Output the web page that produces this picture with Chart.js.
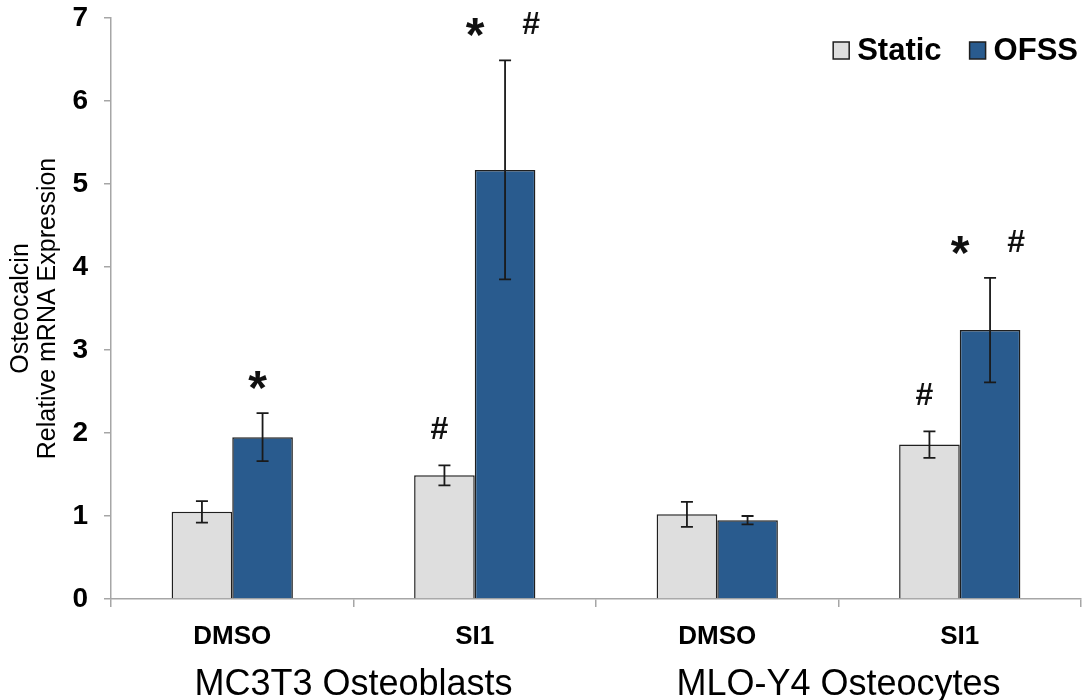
<!DOCTYPE html>
<html>
<head>
<meta charset="utf-8">
<script src="https://cdn.jsdelivr.net/npm/chart.js@4"></script>
<style>
  body { margin: 0; background: #fff; }
  #wrap { width: 1088px; height: 700px; position: relative; }
</style>
</head>
<body>
<div id="wrap"><canvas id="chart-1"></canvas></div>
<script>
const categories = ["DMSO", "SI1", "DMSO", "SI1"];
const groups = ["MC3T3 Osteoblasts", "MLO-Y4 Osteocytes"];
const staticValues = [1.05, 1.49, 1.02, 1.86];
const staticErrors = [0.13, 0.12, 0.15, 0.16];
const ofssValues = [1.95, 5.17, 0.95, 3.24];
const ofssErrors = [0.29, 1.32, 0.05, 0.63];
const staticMarks = [[], ["#"], [], ["#"]];
const ofssMarks = [["*"], ["*", "#"], [], ["*", "#"]];
const yTitle = ["Osteocalcin", "Relative mRNA Expression"];

const FONT = "'Liberation Sans', Arial, sans-serif";

const errorBars = {
  id: "errorBars",
  afterDatasetsDraw(chart) {
    const ctx = chart.ctx;
    const y = chart.scales.y;
    chart.data.datasets.forEach((ds, i) => {
      const meta = chart.getDatasetMeta(i);
      meta.data.forEach((bar, j) => {
        const v = ds.data[j];
        const e = ds.errors[j];
        const top = y.getPixelForValue(v + e);
        const bottom = y.getPixelForValue(v - e);
        ctx.save();
        ctx.strokeStyle = "#1a1a1a";
        ctx.lineWidth = 1.8;
        ctx.beginPath();
        ctx.moveTo(bar.x, top);
        ctx.lineTo(bar.x, bottom);
        ctx.moveTo(bar.x - 6, top);
        ctx.lineTo(bar.x + 6, top);
        ctx.moveTo(bar.x - 6, bottom);
        ctx.lineTo(bar.x + 6, bottom);
        ctx.stroke();
        // significance marks above the error bar
        const marks = ds.marks[j];
        const cy = top - 37;
        ctx.fillStyle = "#111";
        ctx.textAlign = "center";
        ctx.textBaseline = "alphabetic";
        marks.forEach((m, k) => {
          let cx = bar.x - 5;
          if (marks.length > 1) cx = k === 0 ? bar.x - 30 : bar.x + 26;
          if (m === "*") {
            ctx.font = "bold 48px " + FONT;
            ctx.fillText(m, cx, cy + 28);
          } else {
            ctx.font = "bold 32px " + FONT;
            ctx.fillText(m, cx, cy + 11);
          }
        });
        ctx.restore();
      });
    });
  },
};

const groupLabels = {
  id: "groupLabels",
  afterDraw(chart) {
    const ctx = chart.ctx;
    const x = chart.scales.x;
    ctx.save();
    ctx.font = "36px " + FONT;
    ctx.fillStyle = "#000";
    ctx.textAlign = "center";
    ctx.textBaseline = "alphabetic";
    groups.forEach((g, i) => {
      const cx = (x.getPixelForValue(i * 2) + x.getPixelForValue(i * 2 + 1)) / 2;
      ctx.fillText(g, cx, 695);
    });
    ctx.restore();
  },
};

// legend drawn in the top right corner of the plot
const cornerLegend = {
  id: "cornerLegend",
  afterDraw(chart) {
    const ctx = chart.ctx;
    const area = chart.chartArea;
    ctx.save();
    ctx.font = "bold 31px " + FONT;
    ctx.textBaseline = "middle";
    ctx.textAlign = "left";
    const cy = area.top + 33;
    let xRight = area.right - 3;
    const items = chart.data.datasets.map((ds) => ds).reverse();
    items.forEach((ds) => {
      const w = ctx.measureText(ds.label).width;
      const tx = xRight - w;
      ctx.fillStyle = "#000";
      ctx.fillText(ds.label, tx, cy);
      ctx.fillStyle = ds.backgroundColor;
      ctx.strokeStyle = ds.borderColor;
      ctx.lineWidth = 1.5;
      ctx.fillRect(tx - 24, cy - 9, 16, 17);
      ctx.strokeRect(tx - 24, cy - 9, 16, 17);
      xRight = tx - 24 - 28;
    });
    ctx.restore();
  },
};

const data_1 = {
  labels: categories,
  datasets: [
    {
      label: "Static",
      data: staticValues,
      errors: staticErrors,
      marks: staticMarks,
      backgroundColor: "#dedede",
      borderColor: "#1f1f1f",
      borderWidth: 1.5,
    },
    {
      label: "OFSS",
      data: ofssValues,
      errors: ofssErrors,
      marks: ofssMarks,
      backgroundColor: "#295b8e",
      borderColor: "#1f1f1f",
      borderWidth: 1.5,
    },
  ],
};

new Chart(document.getElementById("chart-1"), {
  type: "bar",
  data: data_1,
  plugins: [errorBars, groupLabels, cornerLegend],
  options: {
    responsive: true,
    maintainAspectRatio: false,
    animation: false,
    categoryPercentage: 0.5,
    barPercentage: 1.0,
    layout: {
      padding: { top: 0, right: 7, bottom: 0, left: 0 },
    },
    scales: {
      x: {
        afterFit(scale) {
          scale.height = 101;
        },
        grid: {
          drawOnChartArea: false,
          drawTicks: true,
          tickLength: 8,
          color: "#a6a6a6",
          lineWidth: 1.5,
          offset: true,
        },
        border: { color: "#a6a6a6", width: 1.5 },
        ticks: {
          color: "#000",
          padding: 14,
          font: { family: FONT, size: 26, weight: "bold" },
        },
      },
      y: {
        min: 0,
        max: 7,
        afterFit(scale) {
          scale.width = 111;
          scale.paddingTop = 18;
          scale.paddingBottom = 0;
        },
        grid: {
          drawOnChartArea: false,
          drawTicks: true,
          tickLength: 7,
          color: "#a6a6a6",
          lineWidth: 1.5,
        },
        border: { color: "#a6a6a6", width: 1.5 },
        ticks: {
          stepSize: 1,
          color: "#000",
          padding: 16,
          font: { family: FONT, size: 28, weight: "bold" },
        },
        title: {
          display: true,
          text: yTitle,
          color: "#000",
          padding: { top: 8, bottom: 0 },
          font: { family: FONT, size: 25, lineHeight: 1.08 },
        },
      },
    },
    plugins: {
      tooltip: { enabled: false },
      legend: { display: false },
    },
  },
});
</script>
</body>
</html>
